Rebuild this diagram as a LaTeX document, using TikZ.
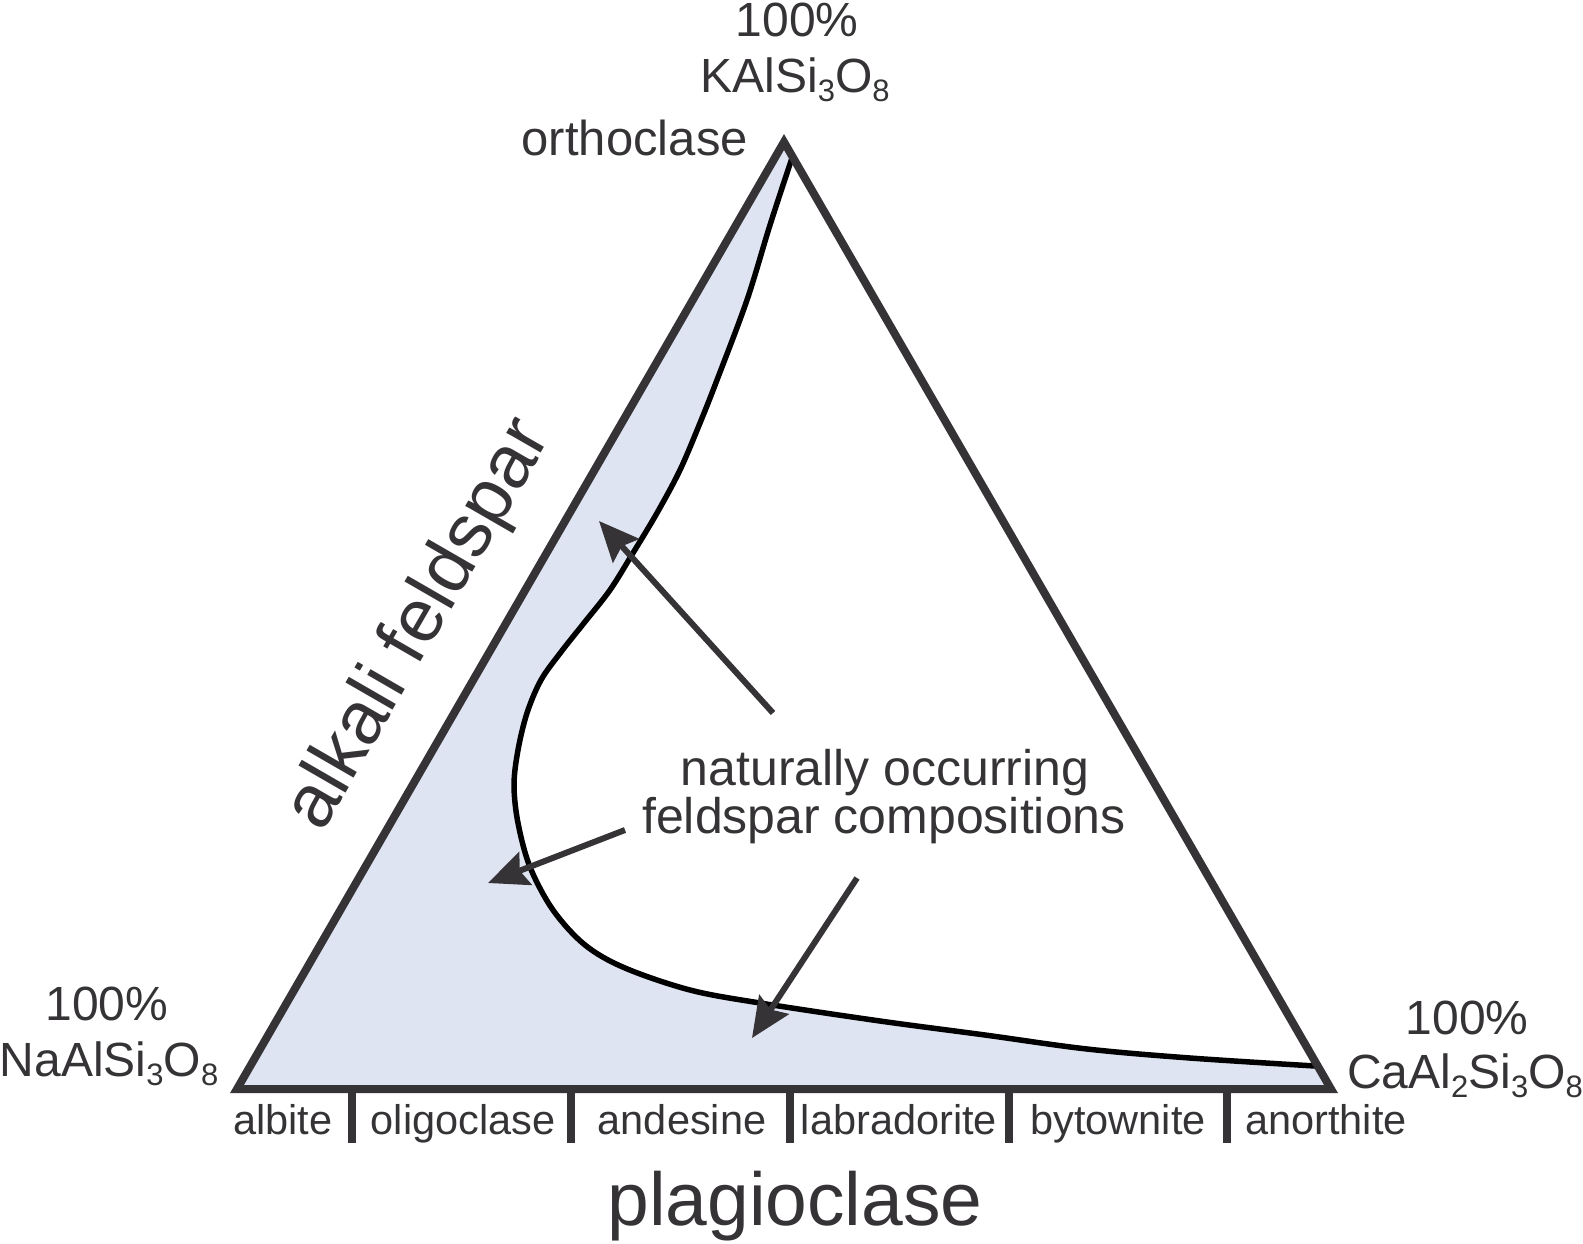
\documentclass[tikz,border=0pt]{standalone}
\usepackage{fontspec}
\setmainfont{Liberation Sans}
\usetikzlibrary{arrows.meta}
\definecolor{ink}{RGB}{53,51,54}
\definecolor{fillblue}{RGB}{223,228,242}
\newcommand\subsc[1]{\raisebox{-9pt}{\fontsize{31}{31}\selectfont #1}}
\begin{document}
\begin{tikzpicture}[x=1pt,y=-1pt,
  lbl/.style={text=ink, inner sep=0pt, font=\fontsize{48}{54}\selectfont},
  minlbl/.style={text=ink, inner sep=0pt, font=\fontsize{41.5}{45}\selectfont, anchor=base},
  biglbl/.style={text=ink, inner sep=0pt, font=\fontsize{75}{82}\selectfont},
  edge/.style={draw=ink, line width=8pt, line join=miter},
  tick/.style={draw=ink, line width=8pt},
  curve/.style={draw=black, line width=5.5pt},
  arr/.style={draw=ink, line width=6pt, -{Stealth[length=40pt,width=35pt,inset=6pt]}}]
\useasboundingbox (0,0) rectangle (1583,1243);
\coordinate (A) at (237,1089);
\coordinate (B) at (1331,1089);
\coordinate (C) at (784,142);
% shaded field of natural compositions
\fill[fillblue] (A) -- (C) -- plot[smooth,tension=0.55] coordinates {
 (792,158) (770,225) (747,300) (717,380) (700,423) (680,470) (657,513)
 (633,553) (610,590) (584,623) (561,652) (541,680) (527,713) (518,750)
 (514,785) (518,823) (530,867) (553,910) (585,945) (625,968) (690,990)
 (760,1003) (880,1021) (985,1035) (1087,1049) (1190,1058) (1315,1066)}
 -- (B) -- cycle;
\draw[curve] plot[smooth,tension=0.55] coordinates {
 (792,158) (770,225) (747,300) (717,380) (700,423) (680,470) (657,513)
 (633,553) (610,590) (584,623) (561,652) (541,680) (527,713) (518,750)
 (514,785) (518,823) (530,867) (553,910) (585,945) (625,968) (690,990)
 (760,1003) (880,1021) (985,1035) (1087,1049) (1190,1058) (1315,1066)};
% triangle
\draw[edge] (A) -- (B) -- (C) -- cycle;
% ticks of the plagioclase series
\foreach \tx in {352,571,790,1009,1227}
  \draw[tick] (\tx,1089) -- (\tx,1143);
% vertex labels
\node[lbl, anchor=base] (k100) at (797,36) {100\%};
\node[lbl, anchor=base] (kfs) at (795,92) {KAlSi\subsc{3}O\subsc{8}};
\node[lbl, anchor=base east, font=\fontsize{49}{54}\selectfont] (orth) at (748,155) {orthoclase};
\node[lbl, anchor=base] (na100) at (107,1020) {100\%};
\node[lbl, anchor=base] (ab) at (109,1076) {NaAlSi\subsc{3}O\subsc{8}};
\node[lbl, anchor=base] (ca100) at (1467,1034) {100\%};
\node[lbl, anchor=base] (an) at (1465,1088) {CaAl\subsc{2}Si\subsc{3}O\subsc{8}};
% plagioclase names
\node[minlbl] (albite) at (283,1134) {albite};
\node[minlbl] (oligo) at (463,1134) {oligoclase};
\node[minlbl] (andes) at (682,1134) {andesine};
\node[minlbl] (labra) at (899,1134) {labradorite};
\node[minlbl] (bytow) at (1118,1134) {bytownite};
\node[minlbl] (anort) at (1326,1134) {anorthite};
% series names
\node[biglbl, anchor=base] (plag) at (795,1225) {plagioclase};
\node[biglbl, anchor=center, rotate=60] (alk) at (420,625) {alkali feldspar};
% central label and arrows
\node[lbl, anchor=base, font=\fontsize{50}{54}\selectfont] (nat1) at (885,785) {naturally occurring};
\node[lbl, anchor=base, font=\fontsize{50}{54}\selectfont] (nat2) at (884,833) {feldspar compositions};
\coordinate (t1) at (773,713); \coordinate (h1) at (599,521);
\coordinate (t2) at (625,830); \coordinate (h2) at (488,883);
\coordinate (t3) at (857,878); \coordinate (h3) at (752,1038);
\draw[arr] (t1) -- (h1);
\draw[arr] (t2) -- (h2);
\draw[arr] (t3) -- (h3);
\end{tikzpicture}
\end{document}
